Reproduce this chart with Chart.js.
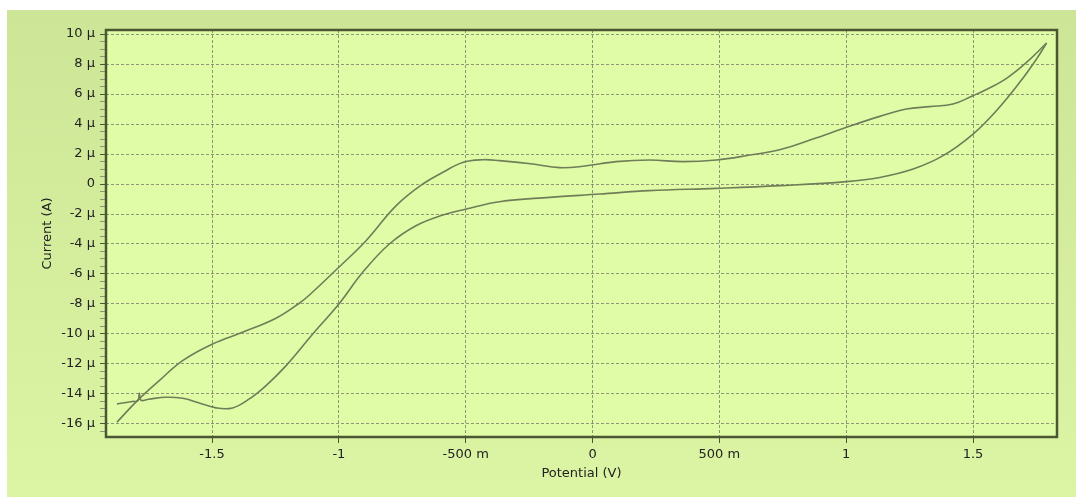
<!DOCTYPE html>
<html>
<head>
<meta charset="utf-8">
<script src="https://cdn.jsdelivr.net/npm/chart.js@4/dist/chart.umd.min.js"></script>
<style>
  html, body { margin: 0; padding: 0; background: #fff; }
  #panel {
    position: absolute; left: 7px; top: 10px; width: 1069px; height: 487px;
    background: linear-gradient(#cde596, #dcf5a4);
  }
</style>
</head>
<body>
<div id="panel"><canvas id="cv" width="1069" height="487"></canvas></div>
<script>
// Forward scan (lower branch), potential in V, current in µA
const forwardV = [-1.875, -1.815, -1.792, -1.787, -1.78, -1.75, -1.682, -1.616, -1.55, -1.484,
  -1.419, -1.353, -1.287, -1.208, -1.103, -1.0, -0.906, -0.801, -0.696, -0.59,
  -0.498, -0.367, -0.17, 0.028, 0.225, 0.488, 0.738, 1.001, 1.132, 1.264,
  1.382, 1.5, 1.592, 1.684, 1.75, 1.79];
const forwardI = [-14.67, -14.5, -14.45, -13.96, -14.42, -14.35, -14.22, -14.29, -14.6, -14.93,
  -14.93, -14.33, -13.44, -12.11, -10.0, -8.0, -5.89, -4.0, -2.78, -2.07,
  -1.67, -1.18, -0.89, -0.67, -0.44, -0.29, -0.11, 0.16, 0.44, 1.0,
  1.89, 3.33, 4.89, 6.78, 8.33, 9.4];

// Reverse scan (upper branch)
const reverseV = [1.79, 1.711, 1.632, 1.553, 1.5, 1.421, 1.329, 1.237, 1.132, 1.001,
  0.869, 0.738, 0.619, 0.488, 0.356, 0.225, 0.093, -0.038, -0.13, -0.235,
  -0.367, -0.433, -0.512, -0.59, -0.669, -0.774, -0.893, -1.0, -1.116, -1.156,
  -1.248, -1.38, -1.498, -1.616, -1.708, -1.774, -1.814, -1.875];
const reverseI = [9.4, 8.11, 7.05, 6.3, 5.89, 5.33, 5.16, 5.0, 4.51, 3.78,
  3.0, 2.29, 1.93, 1.6, 1.49, 1.6, 1.49, 1.18, 1.09, 1.33,
  1.56, 1.62, 1.44, 0.78, 0.0, -1.44, -3.78, -5.55, -7.4, -7.95,
  -8.95, -9.89, -10.67, -11.78, -13.11, -14.11, -14.78, -15.89];

const xRange = [-1.918, 1.831];
const yRange = [-16.87, 10.27];

const colors = {
  plot: "#e0fca6",
  line: "#6f7d58",
  grid: "#8e9676",
  frame: "#4b5632",
  text: "#222",
};

const toPoints = (xs, ys) => xs.map((x, i) => ({ x: x, y: ys[i] }));

// Plot background and full frame
const framePlugin = {
  id: "frame",
  beforeDraw: (chart) => {
    const { ctx, chartArea: a } = chart;
    ctx.save();
    ctx.fillStyle = colors.plot;
    ctx.fillRect(a.left, a.top, a.right - a.left, a.bottom - a.top);
    ctx.restore();
  },
  afterDraw: (chart) => {
    const { ctx, chartArea: a } = chart;
    ctx.save();
    ctx.strokeStyle = colors.frame;
    ctx.lineWidth = 2.5;
    ctx.strokeRect(a.left, a.top, a.right - a.left, a.bottom - a.top);
    ctx.restore();
  },
};

const font = { family: "DejaVu Sans", size: 13 };

const lineSet = (label, data) => ({
  label: label,
  data: data,
  showLine: true,
  borderColor: colors.line,
  borderWidth: 1.6,
  pointRadius: 0,
  tension: 0.4,
});

const isMajor = (v) => Math.abs(v % 2) < 1e-9;

new Chart(document.getElementById("cv"), {
  type: "scatter",
  data: {
    datasets: [
      lineSet("forward", toPoints(forwardV, forwardI)),
      lineSet("reverse", toPoints(reverseV, reverseI)),
    ],
  },
  plugins: [framePlugin],
  options: {
    responsive: false,
    animation: false,
    layout: { padding: { left: 0, top: 20, right: 19, bottom: 0 } },
    plugins: { legend: { display: false }, tooltip: { enabled: false } },
    scales: {
      x: {
        type: "linear",
        min: xRange[0],
        max: xRange[1],
        afterFit: (scale) => { scale.height = 60; },
        ticks: {
          stepSize: 0.5,
          includeBounds: false,
          color: colors.text,
          font: font,
          padding: 4,
          maxRotation: 0,
          callback: (v) => {
            if (v === 0) return "0";
            if (Math.abs(v) < 1) return Math.round(v * 1000) + " m";
            return String(v);
          },
        },
        grid: { color: colors.grid, tickColor: colors.frame, tickLength: 6 },
        border: { display: false, dash: [3, 2] },
        title: {
          display: true,
          text: "Potential (V)",
          color: colors.text,
          font: font,
          padding: { top: 0, bottom: 16 },
        },
      },
      y: {
        type: "linear",
        min: yRange[0],
        max: yRange[1],
        afterFit: (scale) => { scale.width = 99; },
        ticks: {
          stepSize: 0.5,
          includeBounds: false,
          autoSkip: false,
          color: colors.text,
          font: font,
          padding: 5,
          callback: (v) => {
            if (!isMajor(v)) return "";
            return v === 0 ? "0" : v + " µ";
          },
        },
        grid: {
          color: (ctx) => (ctx.tick && isMajor(ctx.tick.value) ? colors.grid : "rgba(0,0,0,0)"),
          tickColor: (ctx) => (ctx.tick && isMajor(ctx.tick.value) ? colors.frame : "#8a9870"),
          tickLength: 6,
        },
        border: { display: false, dash: [3, 2] },
        title: {
          display: true,
          text: "Current (A)",
          color: colors.text,
          font: font,
          padding: { top: 33, bottom: 0 },
        },
      },
    },
  },
});
</script>
</body>
</html>
